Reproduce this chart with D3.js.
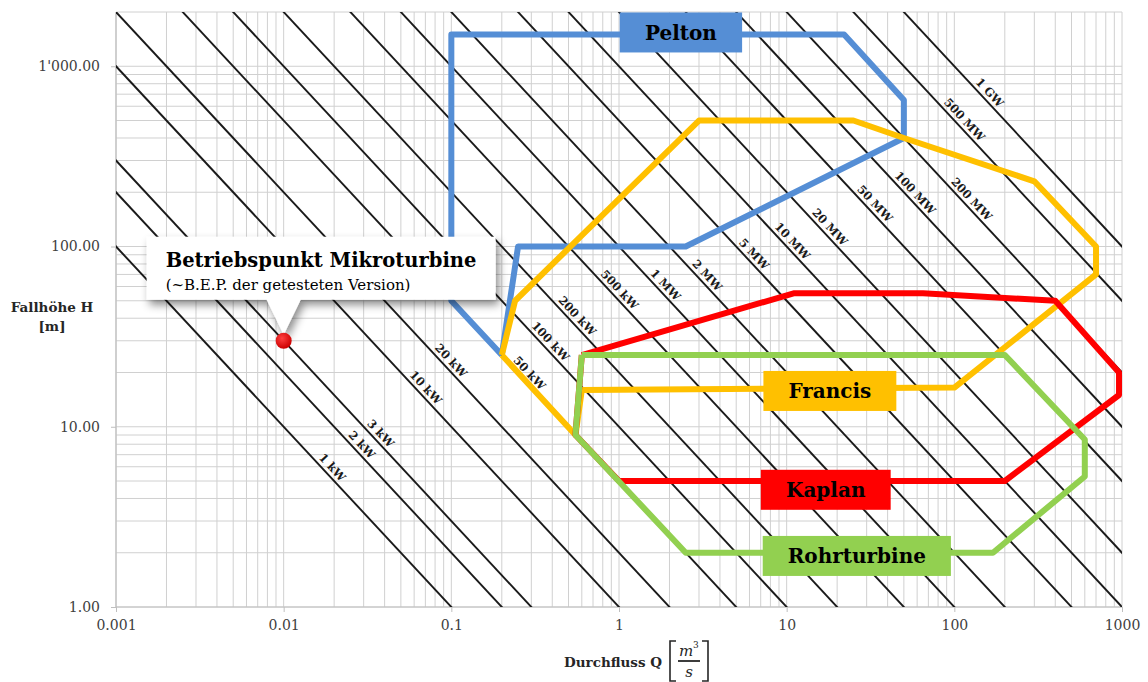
<!DOCTYPE html>
<html>
<head>
<meta charset="utf-8">
<script src="https://cdn.jsdelivr.net/npm/d3@7"></script>
<style>
  body { margin: 0; background: #fff; }
  svg { display: block; font-family: "DejaVu Serif", serif; }
</style>
</head>
<body>
<svg width="1148" height="682"></svg>
<script>
// ---- data ----
let xTicks = [0.001, 0.01, 0.1, 1, 10, 100, 1000];
let xTickLabels = ["0.001", "0.01", "0.1", "1", "10", "100", "1000"];
let yTicks = [1, 10, 100, 1000];
let yTickLabels = ["1.00", "10.00", "100.00", "1'000.00"];

// lines of constant power (kW), P ~ 10 * Q * H
let powerKW = [1, 2, 3, 10, 20, 50, 100, 200, 500, 1000, 2000, 5000, 1e4, 2e4, 5e4, 1e5, 2e5, 5e5, 1e6];
let powerLabels = ["1 kW", "2 kW", "3 kW", "10 kW", "20 kW", "50 kW", "100 kW", "200 kW", "500 kW",
  "1 MW", "2 MW", "5 MW", "10 MW", "20 MW", "50 MW", "100 MW", "200 MW", "500 MW", "1 GW"];
let powerLabelQ = [0.018, 0.027, 0.035, 0.065, 0.092, 0.27, 0.36, 0.52, 0.93,
  1.75, 3.1, 5.9, 10, 16.7, 31, 54, 117, 106, 150];

// turbine envelopes (Q in m3/s, H in m)
let peltonQ = [0.2, 0.1, 0.1, 22, 50, 50, 2.5, 0.25, 0.2];
let peltonH = [25, 50, 1500, 1500, 650, 400, 100, 100, 25];
let francisQ = [0.2, 0.24, 3, 25, 50, 300, 700, 700, 100, 0.6, 0.55, 0.2];
let francisH = [25, 50, 500, 500, 400, 230, 100, 70, 16.5, 16, 9, 25];
let kaplanQ = [0.6, 11, 65, 400, 960, 960, 200, 1, 0.55, 0.6];
let kaplanH = [25, 55, 55, 50, 20, 15, 5, 5, 9, 25];
let rohrQ = [0.6, 200, 600, 600, 170, 2.5, 0.55, 0.6];
let rohrH = [25, 25, 8.5, 5.3, 2, 2, 9, 25];

let turbineNames = ["Pelton", "Francis", "Kaplan", "Rohrturbine"];
let turbineColors = ["#558ed5", "#ffc000", "#ff0000", "#92d050"];
let turbineLabelQ = [2.34, 18.1, 17.1, 26.2];
let turbineLabelH = [1540, 15.8, 4.47, 1.92];

// operating point of the micro turbine
let pointQ = 0.01;
let pointH = 30;

// ---- setup ----
let margin = {top: 12, right: 26, bottom: 75, left: 116};
let W = 1148, H = 682;
let width = W - margin.left - margin.right;
let height = H - margin.top - margin.bottom;

let svg = d3.select("svg");

let x = d3.scaleLog().domain([0.001, 1000]).range([margin.left, margin.left + width]);
let y = d3.scaleLog().domain([1, 2000]).range([margin.top + height, margin.top]);

let defs = svg.append("defs");
defs.append("clipPath").attr("id", "plotclip")
  .append("rect")
  .attr("x", margin.left).attr("y", margin.top)
  .attr("width", width).attr("height", height);

let shadow = defs.append("filter").attr("id", "shadow")
  .attr("x", "-20%").attr("y", "-30%").attr("width", "140%").attr("height", "170%");
shadow.append("feDropShadow")
  .attr("dx", 3).attr("dy", 5).attr("stdDeviation", 4)
  .attr("flood-color", "#000").attr("flood-opacity", 0.45);

let grad = defs.append("radialGradient").attr("id", "dotgrad")
  .attr("cx", "40%").attr("cy", "35%").attr("r", "65%");
grad.append("stop").attr("offset", "0%").attr("stop-color", "#ff4040");
grad.append("stop").attr("offset", "100%").attr("stop-color", "#cc0000");

// ---- grid ----
let xGrid = [];
xTicks.slice(0, -1).forEach(d => { for (let k = 1; k < 10; k++) xGrid.push(d * k); });
xGrid.push(1000);
let yGrid = [];
yTicks.forEach(d => { for (let k = 1; k < 10; k++) if (d * k <= 2000) yGrid.push(d * k); });

let grid = svg.append("g");
grid.selectAll(".vx").data(xGrid).join("line")
  .attr("x1", d => x(d)).attr("x2", d => x(d))
  .attr("y1", margin.top).attr("y2", margin.top + height)
  .style("stroke", "#d0d0d0").style("stroke-width", 1);
grid.selectAll(".hy").data(yGrid).join("line")
  .attr("y1", d => y(d)).attr("y2", d => y(d))
  .attr("x1", margin.left).attr("x2", margin.left + width)
  .style("stroke", "#d0d0d0").style("stroke-width", 1);

// axes lines
svg.append("line")
  .attr("x1", margin.left).attr("x2", margin.left)
  .attr("y1", margin.top).attr("y2", margin.top + height)
  .style("stroke", "#bfbfbf").style("stroke-width", 1.2);
svg.append("line")
  .attr("x1", margin.left).attr("x2", margin.left + width)
  .attr("y1", margin.top + height).attr("y2", margin.top + height)
  .style("stroke", "#bfbfbf").style("stroke-width", 1.2);

// axes ticks + labels
let xAxis = d3.axisBottom(x).tickValues(xTicks).tickSize(5)
  .tickFormat((d, i) => xTickLabels[i]);
let gx = svg.append("g").attr("transform", "translate(0," + (margin.top + height) + ")").call(xAxis);
gx.select(".domain").remove();
gx.selectAll("line").style("stroke", "#bfbfbf");
gx.selectAll("text").style("font-family", "DejaVu Serif").style("font-size", "14px")
  .style("fill", "#404040").attr("dy", "1.05em");

let yAxis = d3.axisLeft(y).tickValues(yTicks).tickSize(5)
  .tickFormat((d, i) => yTickLabels[i]);
let gy = svg.append("g").attr("transform", "translate(" + margin.left + ",0)").call(yAxis);
gy.select(".domain").remove();
gy.selectAll("line").style("stroke", "#bfbfbf");
gy.selectAll("text").style("font-family", "DejaVu Serif").style("font-size", "14px")
  .style("fill", "#404040").attr("x", -16);

// ---- constant power lines ----
let angle = Math.atan2(y(1) - y(10), x(10) - x(1)) * 180 / Math.PI;
let plines = svg.append("g").attr("clip-path", "url(#plotclip)");
plines.selectAll("line").data(powerKW).join("line")
  .attr("x1", d => x(1e-5)).attr("y1", d => y(d / 10 / 1e-5))
  .attr("x2", d => x(1e5)).attr("y2", d => y(d / 10 / 1e5))
  .style("stroke", "#1a1a1a").style("stroke-width", 1.9);

svg.append("g").selectAll("text").data(powerKW).join("text")
  .attr("transform", (d, i) => {
    let q = powerLabelQ[i];
    return "translate(" + x(q) + "," + y(d / 10 / q) + ") rotate(" + angle + ")";
  })
  .attr("dy", -4)
  .attr("text-anchor", "middle")
  .style("font-family", "DejaVu Serif").style("font-weight", "bold")
  .style("font-size", "11.5px").style("fill", "#1a1a1a")
  .text((d, i) => powerLabels[i]);

// ---- turbine envelopes ----
let envelopes = [
  d3.zip(peltonQ, peltonH),
  d3.zip(francisQ, francisH),
  d3.zip(kaplanQ, kaplanH),
  d3.zip(rohrQ, rohrH)
];
let lineGen = d3.line().x(d => x(d[0])).y(d => y(d[1]));
svg.append("g").selectAll("path").data(envelopes).join("path")
  .attr("d", lineGen)
  .style("fill", "none")
  .style("stroke", (d, i) => turbineColors[i])
  .style("stroke-width", 6)
  .style("stroke-linejoin", "round");

// turbine name boxes
turbineNames.forEach((name, i) => {
  let g = svg.append("g").attr("transform", "translate(" + x(turbineLabelQ[i]) + "," + y(turbineLabelH[i]) + ")");
  let rect = g.append("rect").style("fill", turbineColors[i]);
  let t = g.append("text")
    .attr("text-anchor", "middle").attr("dy", "0.36em")
    .style("font-family", "DejaVu Serif").style("font-weight", "bold")
    .style("font-size", "20px").style("fill", "#000")
    .text(name);
  let bb = t.node().getBBox();
  let bw = bb.width + 50;
  rect.attr("x", -bw / 2).attr("y", -20).attr("width", bw).attr("height", 40);
});

// ---- callout for operating point ----
let px = x(pointQ), py = y(pointH);
let call = svg.append("g");
call.append("path")
  .attr("d", "M" + (px - 137) + "," + (py - 104) + " H" + (px + 212) + " V" + (py - 41) +
    " H" + (px + 17) + " L" + px + "," + (py - 6) + " L" + (px - 17) + "," + (py - 41) +
    " H" + (px - 137) + " Z")
  .style("fill", "#fff")
  .attr("filter", "url(#shadow)");
call.append("text")
  .attr("x", px - 118).attr("y", py - 74)
  .style("font-family", "DejaVu Serif").style("font-weight", "bold")
  .style("font-size", "19.5px").style("fill", "#000")
  .text("Betriebspunkt Mikroturbine");
call.append("text")
  .attr("x", px - 118).attr("y", py - 51)
  .style("font-family", "DejaVu Serif")
  .style("font-size", "15px").style("fill", "#000")
  .text("(~B.E.P. der getesteten Version)");

svg.append("circle")
  .attr("cx", px).attr("cy", py).attr("r", 8)
  .style("fill", "url(#dotgrad)");

// ---- axis titles ----
svg.append("text")
  .attr("x", 52).attr("y", 312).attr("text-anchor", "middle")
  .style("font-family", "DejaVu Serif").style("font-weight", "bold")
  .style("font-size", "13.5px").style("fill", "#262626")
  .text("Fallhöhe H");
svg.append("text")
  .attr("x", 52).attr("y", 331).attr("text-anchor", "middle")
  .style("font-family", "DejaVu Serif").style("font-weight", "bold")
  .style("font-size", "13.5px").style("fill", "#262626")
  .text("[m]");

let xt = svg.append("g");
xt.append("text")
  .attr("x", 662).attr("y", 667).attr("text-anchor", "end")
  .style("font-family", "DejaVu Serif").style("font-weight", "bold")
  .style("font-size", "13.5px").style("fill", "#262626")
  .text("Durchfluss Q");
// bracket [ m^3 / s ]
xt.append("path")
  .attr("d", "M676,641 H670 V681 H676 M702,641 H708 V681 H702")
  .style("fill", "none").style("stroke", "#262626").style("stroke-width", 1.6);
xt.append("text")
  .attr("x", 679).attr("y", 656)
  .style("font-family", "DejaVu Serif").style("font-style", "italic")
  .style("font-size", "15px").style("fill", "#262626")
  .text("m");
xt.append("text")
  .attr("x", 693).attr("y", 648)
  .style("font-family", "DejaVu Serif").style("font-size", "9px").style("fill", "#262626")
  .text("3");
xt.append("line")
  .attr("x1", 678).attr("x2", 700).attr("y1", 661).attr("y2", 661)
  .style("stroke", "#262626").style("stroke-width", 1.8);
xt.append("text")
  .attr("x", 689).attr("y", 677).attr("text-anchor", "middle")
  .style("font-family", "DejaVu Serif").style("font-style", "italic")
  .style("font-size", "15px").style("fill", "#262626")
  .text("s");
</script>
</body>
</html>
